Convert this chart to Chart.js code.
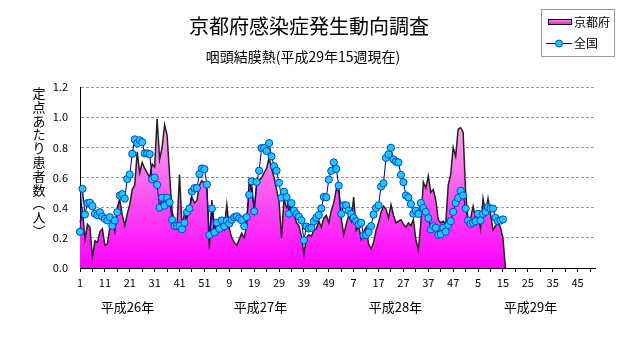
<!DOCTYPE html>
<html><head><meta charset="utf-8">
<script src="https://cdn.jsdelivr.net/npm/chart.js@4/dist/chart.umd.min.js"></script>
<style>html,body{margin:0;padding:0;background:#fff}canvas{display:block}</style>
</head><body>
<canvas id="c" width="631" height="347"></canvas>
<script>
// ---- data ----
const yearLabels = ['平成26年', '平成27年', '平成28年', '平成29年'];
const weeksPerYear = 52;
const weekNumbers = [];
for (let y = 0; y < yearLabels.length; y++) for (let w = 1; w <= weeksPerYear; w++) weekNumbers.push(String(w));

const kyotoValues = [
 0.30,0.38,0.19,0.29,0.27,0.07,0.18,0.17,0.24,0.26,0.15,0.16,0.27,0.30,0.24,0.40,0.45,0.35,0.28,0.36,
 0.42,0.52,0.55,0.77,0.63,0.70,0.66,0.63,0.60,0.69,0.67,0.99,0.72,0.80,0.95,0.88,0.62,0.38,0.30,0.28,
 0.62,0.28,0.36,0.33,0.40,0.47,0.43,0.45,0.55,0.58,0.56,0.52,
 0.13,0.45,0.27,0.29,0.33,0.31,0.26,0.42,0.26,0.20,0.17,0.15,0.19,0.23,0.20,0.28,0.58,0.52,0.38,0.55,
 0.58,0.60,0.63,0.66,0.73,0.66,0.60,0.52,0.44,0.20,0.46,0.40,0.42,0.35,0.36,0.30,0.28,0.21,0.09,0.20,
 0.22,0.21,0.25,0.26,0.31,0.27,0.33,0.35,0.30,0.38,0.43,0.52,
 0.51,0.33,0.22,0.29,0.35,0.31,0.47,0.25,0.28,0.19,0.24,0.27,0.16,0.125,0.17,0.25,0.30,0.37,0.41,0.39,
 0.33,0.42,0.35,0.30,0.31,0.32,0.29,0.27,0.30,0.28,0.32,0.19,0.12,0.30,0.57,0.53,0.61,0.50,0.52,0.45,
 0.32,0.30,0.31,0.29,0.55,0.62,0.80,0.74,0.92,0.93,0.90,0.50,
 0.31,0.33,0.41,0.33,0.35,0.26,0.46,0.36,0.46,0.36,0.25,0.28,0.30,0.27,0.20,0
];
const nationalValues = [
 0.24,0.525,0.355,0.43,0.433,0.41,0.36,0.35,0.37,0.34,0.326,0.315,0.337,0.28,0.315,0.37,0.48,0.49,0.46,0.59,
 0.62,0.757,0.853,0.827,0.847,0.834,0.76,0.76,0.755,0.588,0.60,0.55,0.40,0.466,0.413,0.466,0.435,0.32,0.278,0.278,
 0.278,0.256,0.30,0.37,0.395,0.507,0.53,0.53,0.623,0.66,0.656,0.553,
 0.219,0.394,0.236,0.30,0.26,0.315,0.277,0.313,0.295,0.32,0.337,0.343,0.33,0.317,0.277,0.337,0.485,0.575,0.376,0.57,
 0.645,0.795,0.795,0.775,0.828,0.74,0.675,0.645,0.565,0.466,0.506,0.47,0.36,0.43,0.38,0.357,0.341,0.316,0.184,0.275,
 0.262,0.266,0.31,0.333,0.351,0.395,0.471,0.469,0.586,0.644,0.70,0.657,
 0.546,0.359,0.416,0.416,0.38,0.359,0.333,0.31,0.289,0.30,0.217,0.219,0.238,0.278,0.354,0.398,0.416,0.54,0.562,0.73,
 0.753,0.797,0.72,0.705,0.70,0.617,0.569,0.481,0.468,0.424,0.359,0.38,0.359,0.431,0.398,0.372,0.33,0.256,0.278,0.267,
 0.219,0.223,0.267,0.24,0.284,0.31,0.372,0.431,0.464,0.512,0.481,0.394,
 0.315,0.293,0.30,0.31,0.359,0.315,0.359,0.372,0.403,0.394,0.394,0.333,0.31,0.315,0.322
];
const yTicks = [0, 0.2, 0.4, 0.6, 0.8, 1.0, 1.2];
const titleText = '京都府感染症発生動向調査';
const subtitleText = '咽頭結膜熱(平成29年15週現在)';
const yTitleChars = ['定','点','あ','た','り','患','者','数','︵','人','︶'];
const seriesNames = ['京都府', '全国'];

const FONT = '"Noto Sans CJK JP", "Noto Sans", sans-serif';

function pinkGradient(ctx, top, bottom) {
  const g = ctx.createLinearGradient(0, top, 0, bottom);
  g.addColorStop(0, '#f6b2e2');
  g.addColorStop(1, '#ff00ff');
  return g;
}

const decorPlugin = {
  id: 'decor',
  afterDraw(chart) {
    const ctx = chart.ctx;
    ctx.save();
    ctx.fillStyle = '#000';
    ctx.textAlign = 'center';
    ctx.textBaseline = 'middle';
    ctx.font = '20px ' + FONT;
    ctx.fillText(titleText, 309, 26);
    ctx.font = '14px ' + FONT;
    ctx.fillText(subtitleText, 303, 57);
    // vertical y title
    ctx.font = '13px ' + FONT;
    yTitleChars.forEach((ch, k) => ctx.fillText(ch, 39, 93 + k * 13.8));
    // year labels
    ctx.font = '13px ' + FONT;
    const yearX = [127.5, 260.5, 395.5, 530.5];
    yearLabels.forEach((t, k) => ctx.fillText(t, yearX[k], 307));
    // legend
    ctx.strokeStyle = '#9a9a9a';
    ctx.lineWidth = 1;
    ctx.strokeRect(541.5, 9.5, 73, 47);
    ctx.fillStyle = pinkGradient(ctx, 18, 25);
    ctx.fillRect(548, 19, 24, 6);
    ctx.strokeStyle = '#000';
    ctx.strokeRect(548.5, 19.5, 23, 5);
    ctx.strokeStyle = '#000080';
    ctx.beginPath(); ctx.moveTo(546, 43.5); ctx.lineTo(572, 43.5); ctx.stroke();
    ctx.beginPath(); ctx.arc(559, 43.5, 3.5, 0, Math.PI * 2);
    ctx.fillStyle = '#1ec8ff'; ctx.fill();
    ctx.strokeStyle = '#0044cc'; ctx.stroke();
    ctx.fillStyle = '#000';
    ctx.textAlign = 'left';
    ctx.font = '12px ' + FONT;
    ctx.fillText(seriesNames[0], 574, 22);
    ctx.fillText(seriesNames[1], 574, 43);
    ctx.restore();
  }
};

new Chart(document.getElementById('c'), {
  type: 'line',
  data: {
    labels: weekNumbers,
    datasets: [
      {
        label: seriesNames[1],
        data: nationalValues,
        borderColor: '#000080',
        borderWidth: 1,
        pointRadius: 3.6,
        pointBackgroundColor: '#1ec8ff',
        pointBorderColor: '#0044cc',
        pointBorderWidth: 1,
        fill: false,
        tension: 0,
        order: 0
      },
      {
        label: seriesNames[0],
        data: kyotoValues,
        borderColor: '#222',
        borderWidth: 1.5,
        pointRadius: 0,
        fill: 'origin',
        backgroundColor: (c) => {
          const ca = c.chart.chartArea;
          if (!ca) return '#ff66ee';
          return pinkGradient(c.chart.ctx, c.chart.scales.y.getPixelForValue(1.0), ca.bottom);
        },
        tension: 0,
        order: 1
      }
    ]
  },
  options: {
    responsive: false,
    animation: false,
    events: [],
    layout: { padding: { top: 87, right: 36, bottom: 0, left: 0 } },
    plugins: { legend: { display: false }, tooltip: { enabled: false } },
    scales: {
      x: {
        type: 'category',
        offset: false,
        afterFit: (s) => { s.height = 79; },
        border: { color: '#000', width: 1 },
        grid: {
          drawOnChartArea: false,
          drawTicks: true,
          tickLength: 4,
          tickColor: (c) => (c.index % 5 === 0 ? '#000' : 'rgba(0,0,0,0)')
        },
        ticks: {
          autoSkip: false,
          maxRotation: 0,
          minRotation: 0,
          padding: 4,
          color: '#000',
          font: { family: FONT, size: 11 },
          callback: (v, i) => (i % 10 === 0 ? weekNumbers[i] : '')
        }
      },
      y: {
        min: 0,
        max: 1.2,
        afterFit: (s) => { s.width = 80; },
        afterBuildTicks: (s) => { s.ticks = yTicks.map(v => ({ value: v })); },
        border: { color: '#000', width: 1, dash: [3, 2] },
        grid: {
          drawTicks: false,
          color: (c) => (c.tick && c.tick.value === 0 ? 'rgba(0,0,0,0)' : '#999')
        },
        ticks: {
          padding: 12,
          color: '#000',
          font: { family: FONT, size: 11 },
          callback: (v) => Number(v).toFixed(1)
        }
      }
    }
  },
  plugins: [decorPlugin]
});
</script>
</body></html>
